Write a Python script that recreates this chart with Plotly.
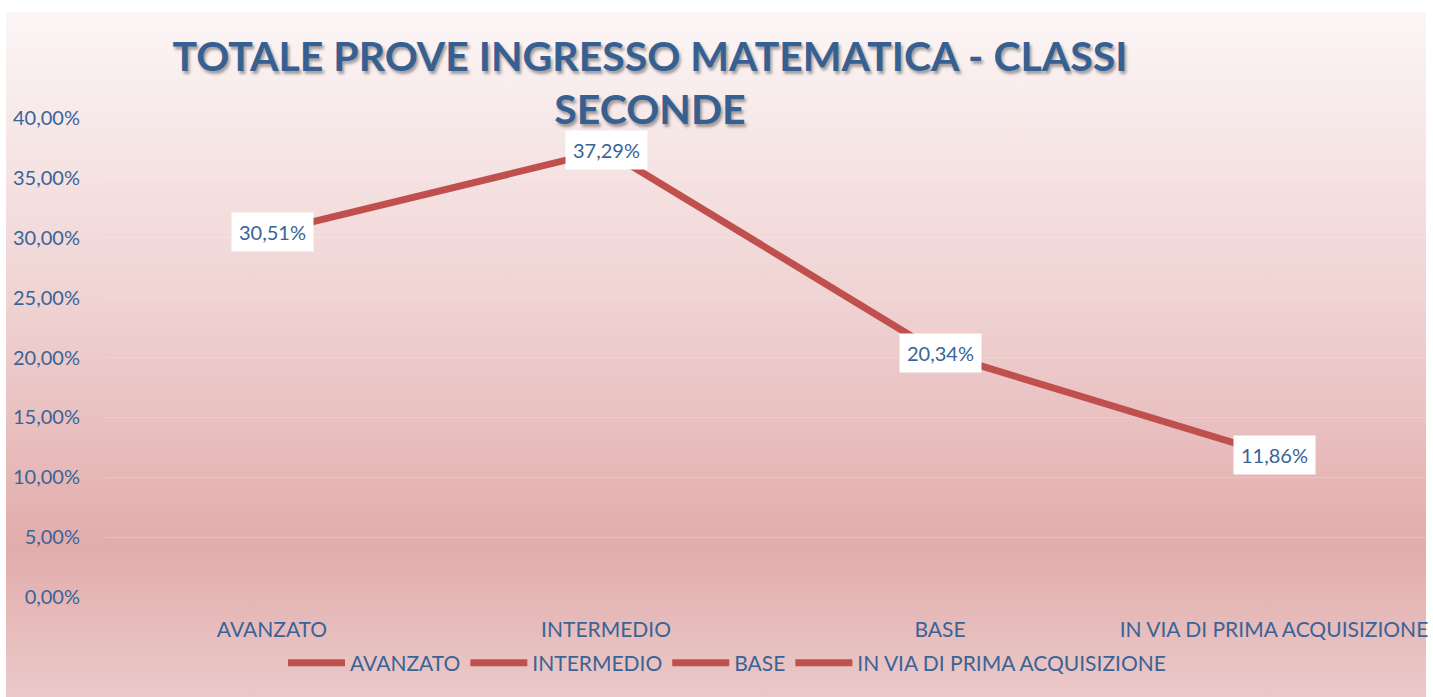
import base64
import plotly.graph_objects as go

# data
categories = ["AVANZATO", "INTERMEDIO", "BASE", "IN VIA DI PRIMA ACQUISIZIONE"]
values = [30.51, 37.29, 20.34, 11.86]
y_ticks = [0, 5, 10, 15, 20, 25, 30, 35, 40]

LINE_RED = "#C0504D"
TEXT_BLUE = "#3A6396"
FONT = "Lato"


def pct(v):
    return f"{v:.2f}".replace(".", ",") + "%"


# vertical gradient for the chart area (white-pink at top, deeper rose near the bottom)
svg = """<svg xmlns='http://www.w3.org/2000/svg' width='100' height='100' preserveAspectRatio='none'>
<defs><linearGradient id='g' x1='0' y1='0' x2='0' y2='1'>
<stop offset='0' stop-color='#FCF6F6'/>
<stop offset='0.45' stop-color='#EFD0D0'/>
<stop offset='0.78' stop-color='#E2ACAC'/>
<stop offset='1' stop-color='#EBC9C9'/>
</linearGradient></defs>
<rect width='100' height='100' fill='url(#g)'/></svg>"""
bg_src = "data:image/svg+xml;base64," + base64.b64encode(svg.encode()).decode()

fig = go.Figure()

# main line
fig.add_trace(go.Scatter(
    x=categories, y=values,
    mode="lines",
    line=dict(color=LINE_RED, width=7),
    showlegend=False,
    hoverinfo="skip",
))

# Excel-style legend: one entry per category, all with the same red line
for name in categories:
    fig.add_trace(go.Scatter(
        x=[None], y=[None], mode="lines",
        line=dict(color=LINE_RED, width=7),
        name=name, showlegend=True,
    ))

# data labels in white boxes
for c, v in zip(categories, values):
    fig.add_annotation(
        x=c, y=v, text=pct(v), showarrow=False,
        font=dict(family=FONT, size=20, color=TEXT_BLUE),
        bgcolor="white", borderpad=7,
        xanchor="center", yanchor="middle",
    )

# plot area geometry in pixels (for placing the background image)
W, H = 1433, 697
L, R, T, B = 105, 0, 118, 100
pw, ph = W - L - R, H - T - B

fig.add_layout_image(
    source=bg_src, xref="paper", yref="paper",
    x=(6 - L) / pw, y=(H - B - 12) / ph,
    sizex=(1426 - 6) / pw, sizey=(H - 12) / ph,
    xanchor="left", yanchor="top",
    sizing="stretch", layer="below",
)

fig.update_layout(
    width=W, height=H,
    margin=dict(l=L, r=R, t=T, b=B),
    paper_bgcolor="white",
    plot_bgcolor="rgba(0,0,0,0)",
    font=dict(family=FONT, size=20, color=TEXT_BLUE),
    title=dict(
        text="TOTALE PROVE INGRESSO MATEMATICA - CLASSI<br>SECONDE",
        font=dict(family=FONT, size=41, color="#376092", weight="bold",
                  shadow="2px 3px 3px rgba(0,0,0,0.35)"),
        xref="paper", x=(650 - L) / pw, xanchor="center",
        yref="container", y=0.898, yanchor="top",
    ),
    xaxis=dict(
        type="category",
        range=[-0.5, -0.5 + pw / 334.0],
        showgrid=False, zeroline=False, showline=False,
        ticks="outside", ticklen=14, tickcolor="rgba(0,0,0,0)",
        tickfont=dict(family=FONT, size=21, color=TEXT_BLUE),
    ),
    yaxis=dict(
        range=[0, 40],
        tickvals=y_ticks,
        ticktext=[pct(t) for t in y_ticks],
        showgrid=True, gridcolor="rgba(255,255,255,0.2)", gridwidth=1,
        zeroline=False, showline=False,
        ticks="outside", ticklen=20, tickcolor="rgba(0,0,0,0)",
        tickfont=dict(family=FONT, size=20, color=TEXT_BLUE),
    ),
    legend=dict(
        orientation="h",
        xref="paper", x=(727 - L) / pw, xanchor="center",
        yref="paper", y=(H - B - 663) / ph, yanchor="middle",
        bgcolor="rgba(0,0,0,0)",
        font=dict(family=FONT, size=21, color=TEXT_BLUE),
        itemwidth=57,
    ),
)

# drop the browser's default 8px body margin so the figure fills the window
fig.write_html("out.html", config={"displayModeBar": False},
               post_script="document.body.style.margin='0';")
